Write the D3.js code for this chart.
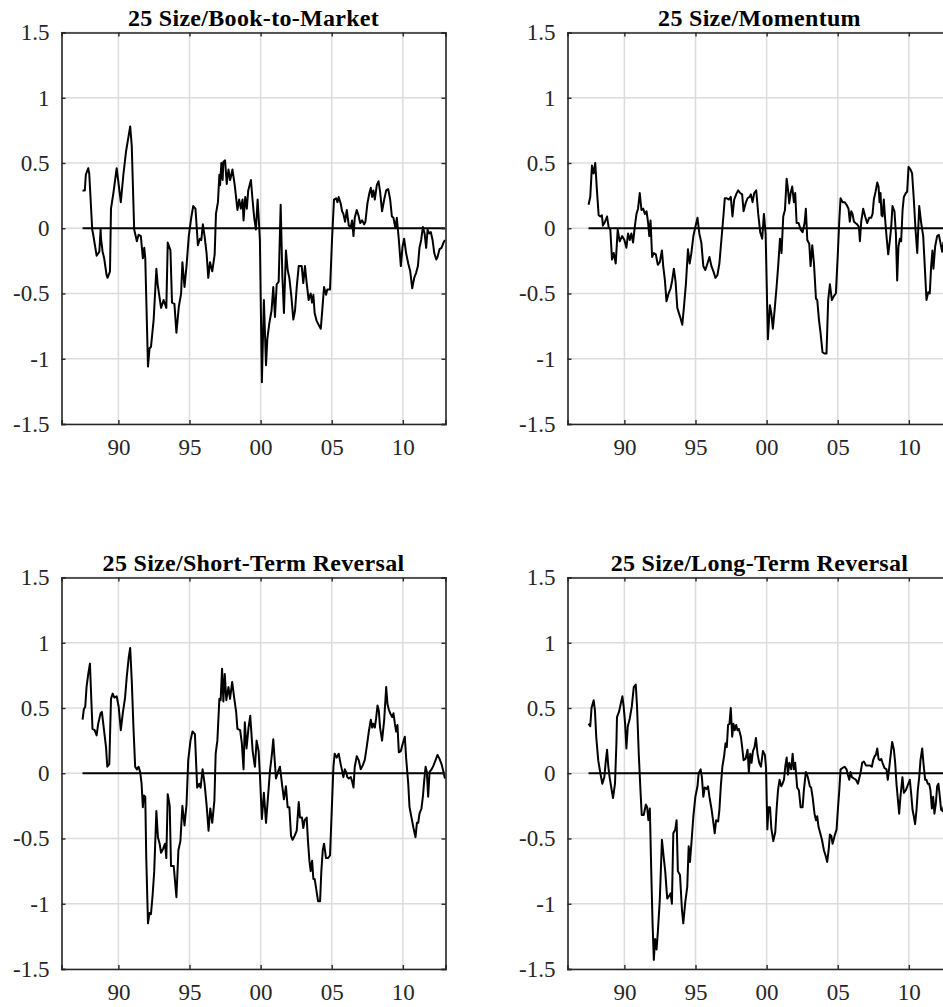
<!DOCTYPE html>
<html>
<head>
<meta charset="utf-8">
<script src="https://cdn.jsdelivr.net/npm/d3@7/dist/d3.min.js"></script>
<style>
body { margin: 0; overflow: hidden; background: #fff; }
text { font-family: "Liberation Serif", "Times New Roman", serif; }
</style>
</head>
<body>
<div id="chart-area"></div>
<script>
// Panel titles
var titles = ['25 Size/Book-to-Market', '25 Size/Momentum',
              '25 Size/Short-Term Reversal', '25 Size/Long-Term Reversal'];

// Tick values and labels
var yTicks = [-1.5, -1, -0.5, 0, 0.5, 1, 1.5];
var yTickLabels = ['-1.5', '-1', '-0.5', '0', '0.5', '1', '1.5'];
var xTicks = [1990, 1995, 2000, 2005, 2010];
var xTickLabels = ['90', '95', '00', '05', '10'];

// Series as [year, value]
var bmSeries = [
  [1987.48,0.29],[1987.64,0.29],[1987.71,0.41],[1987.88,0.46],[1987.95,0.42],[1988.16,-0.01],[1988.23,-0.05],
  [1988.47,-0.21],[1988.66,-0.18],[1988.75,-0.01],[1988.78,-0.08],[1988.89,-0.18],[1989.0,-0.23],[1989.17,-0.36],
  [1989.24,-0.38],[1989.41,-0.33],[1989.48,0.15],[1989.65,0.27],[1989.88,0.46],[1990.17,0.20],[1990.35,0.41],
  [1990.54,0.59],[1990.83,0.78],[1990.94,0.63],[1991.11,-0.01],[1991.30,-0.10],[1991.42,-0.05],[1991.58,-0.06],
  [1991.72,-0.23],[1991.82,-0.15],[1991.89,-0.23],[1992.08,-1.06],[1992.19,-0.92],[1992.29,-0.91],[1992.48,-0.70],
  [1992.67,-0.31],[1992.76,-0.43],[1993.0,-0.61],[1993.18,-0.55],[1993.37,-0.61],[1993.47,-0.11],[1993.66,-0.17],
  [1993.77,-0.57],[1993.94,-0.58],[1994.08,-0.80],[1994.25,-0.60],[1994.41,-0.50],[1994.50,-0.26],[1994.65,-0.45],
  [1994.79,-0.29],[1994.95,-0.06],[1995.12,0.08],[1995.26,0.17],[1995.42,0.15],[1995.59,-0.13],[1995.73,-0.08],
  [1995.83,-0.09],[1995.94,0.03],[1996.06,-0.06],[1996.2,-0.19],[1996.32,-0.38],[1996.44,-0.26],[1996.6,-0.33],
  [1996.77,-0.20],[1996.86,0.11],[1997.0,0.20],[1997.10,0.41],[1997.15,0.33],[1997.24,0.50],[1997.33,0.37],
  [1997.38,0.51],[1997.50,0.52],[1997.62,0.34],[1997.74,0.45],[1997.86,0.37],[1998.02,0.45],[1998.18,0.33],
  [1998.37,0.14],[1998.49,0.22],[1998.61,0.15],[1998.73,0.22],[1998.80,0.06],[1998.92,0.24],[1999.03,0.15],
  [1999.13,0.29],[1999.32,0.37],[1999.43,0.22],[1999.55,0.08],[1999.67,-0.01],[1999.79,0.22],[1999.91,-0.01],
  [1999.95,-0.09],[2000.09,-1.18],[2000.23,-0.55],[2000.38,-1.05],[2000.47,-0.85],[2000.61,-0.73],[2000.77,-0.63],
  [2000.89,-0.45],[2001.01,-0.68],[2001.13,-0.43],[2001.27,-0.41],[2001.41,0.18],[2001.53,-0.37],[2001.64,-0.65],
  [2001.78,-0.17],[2001.90,-0.32],[2002.02,-0.38],[2002.16,-0.52],[2002.30,-0.70],[2002.42,-0.63],[2002.54,-0.45],
  [2002.68,-0.29],[2002.89,-0.29],[2003.0,-0.42],[2003.12,-0.29],[2003.24,-0.42],[2003.38,-0.55],[2003.52,-0.50],
  [2003.62,-0.57],[2003.71,-0.51],[2003.80,-0.65],[2003.94,-0.71],[2004.08,-0.74],[2004.23,-0.77],[2004.32,-0.65],
  [2004.46,-0.45],[2004.60,-0.51],[2004.69,-0.47],[2004.88,-0.47],[2005.02,-0.09],[2005.16,0.22],[2005.31,0.23],
  [2005.40,0.20],[2005.49,0.24],[2005.63,0.19],[2005.73,0.13],[2005.82,0.11],[2005.94,0.05],[2006.06,0.14],
  [2006.20,0.02],[2006.34,0.01],[2006.43,0.06],[2006.53,-0.06],[2006.62,0.08],[2006.76,0.14],[2006.88,0.10],
  [2007.0,0.04],[2007.14,0.06],[2007.28,0.03],[2007.37,0.05],[2007.51,0.19],[2007.65,0.27],[2007.75,0.31],
  [2007.84,0.24],[2007.93,0.29],[2008.03,0.22],[2008.17,0.33],[2008.29,0.36],[2008.40,0.28],[2008.54,0.13],
  [2008.69,0.22],[2008.83,0.29],[2008.97,0.30],[2009.11,0.22],[2009.23,0.09],[2009.34,0.08],[2009.48,0.0],
  [2009.58,0.08],[2009.72,-0.09],[2009.86,-0.29],[2009.98,-0.14],[2010.09,-0.08],[2010.23,-0.19],[2010.38,-0.27],
  [2010.52,-0.33],[2010.66,-0.46],[2010.80,-0.38],[2010.94,-0.34],[2011.06,-0.29],[2011.17,-0.15],[2011.29,-0.09],
  [2011.41,0.01],[2011.53,-0.04],[2011.64,-0.15],[2011.74,-0.01],[2011.85,-0.04],[2011.97,-0.03],[2012.09,-0.09],
  [2012.21,-0.19],[2012.35,-0.24],[2012.44,-0.22],[2012.58,-0.16],[2012.72,-0.15],[2012.86,-0.11],[2012.96,-0.09]
];

var momSeries = [
  [1987.48,0.18],[1987.60,0.24],[1987.72,0.48],[1987.84,0.42],[1987.95,0.50],[1988.07,0.29],[1988.19,0.10],
  [1988.31,0.09],[1988.42,0.10],[1988.49,0.02],[1988.64,0.05],[1988.78,0.09],[1988.89,0.01],[1989.01,-0.01],
  [1989.13,-0.24],[1989.25,-0.19],[1989.39,-0.27],[1989.53,-0.01],[1989.67,-0.10],[1989.84,-0.06],[1990.0,-0.09],
  [1990.14,-0.15],[1990.26,-0.04],[1990.38,-0.09],[1990.49,-0.04],[1990.61,-0.11],[1990.73,0.01],[1990.85,0.11],
  [1990.96,0.15],[1991.08,0.27],[1991.20,0.14],[1991.32,0.15],[1991.44,0.11],[1991.56,0.13],[1991.67,0.04],
  [1991.75,-0.06],[1991.84,0.06],[1991.95,-0.22],[1992.07,-0.19],[1992.21,-0.20],[1992.35,-0.28],[1992.49,-0.26],
  [1992.64,-0.17],[1992.73,-0.29],[1992.85,-0.40],[1992.96,-0.56],[1993.11,-0.50],[1993.25,-0.46],[1993.36,-0.40],
  [1993.48,-0.31],[1993.60,-0.41],[1993.72,-0.61],[1993.86,-0.66],[1993.95,-0.69],[1994.07,-0.74],[1994.19,-0.60],
  [1994.33,-0.42],[1994.47,-0.16],[1994.59,-0.27],[1994.71,-0.19],[1994.85,-0.06],[1994.99,0.01],[1995.14,0.08],
  [1995.27,-0.04],[1995.41,-0.11],[1995.55,-0.29],[1995.69,-0.32],[1995.84,-0.27],[1995.98,-0.22],[1996.12,-0.29],
  [1996.26,-0.33],[1996.40,-0.38],[1996.54,-0.36],[1996.68,-0.27],[1996.82,-0.09],[1996.96,0.09],[1997.06,0.23],
  [1997.20,0.23],[1997.34,0.22],[1997.48,0.24],[1997.60,0.09],[1997.72,0.22],[1997.86,0.26],[1998.0,0.29],
  [1998.14,0.27],[1998.28,0.26],[1998.38,0.13],[1998.52,0.19],[1998.66,0.23],[1998.80,0.24],[1998.89,0.26],
  [1999.01,0.20],[1999.13,0.27],[1999.27,0.29],[1999.41,0.11],[1999.55,-0.03],[1999.69,-0.08],[1999.81,0.11],
  [1999.93,-0.04],[2000.09,-0.85],[2000.23,-0.59],[2000.33,-0.65],[2000.44,-0.77],[2000.56,-0.63],[2000.70,-0.45],
  [2000.82,-0.28],[2000.94,-0.08],[2001.05,-0.19],[2001.17,0.09],[2001.29,0.14],[2001.41,0.38],[2001.50,0.30],
  [2001.59,0.19],[2001.69,0.27],[2001.80,0.32],[2001.92,0.20],[2002.01,0.27],[2002.11,0.04],[2002.25,0.04],
  [2002.39,-0.01],[2002.53,-0.03],[2002.67,0.04],[2002.76,0.15],[2002.86,-0.09],[2003.0,-0.12],[2003.09,-0.29],
  [2003.21,-0.13],[2003.33,-0.27],[2003.47,-0.54],[2003.56,-0.55],[2003.68,-0.70],[2003.79,-0.80],[2003.93,-0.95],
  [2004.07,-0.96],[2004.21,-0.96],[2004.33,-0.55],[2004.45,-0.43],[2004.59,-0.55],[2004.73,-0.52],[2004.87,-0.50],
  [2005.01,-0.19],[2005.11,0.06],[2005.20,0.23],[2005.34,0.20],[2005.48,0.20],[2005.62,0.18],[2005.76,0.15],
  [2005.85,0.05],[2005.95,0.13],[2006.04,0.11],[2006.14,0.05],[2006.25,0.04],[2006.37,0.03],[2006.49,0.01],
  [2006.56,-0.10],[2006.65,0.05],[2006.79,0.15],[2006.93,0.09],[2007.07,0.04],[2007.21,0.08],[2007.35,0.08],
  [2007.45,0.11],[2007.54,0.22],[2007.66,0.28],[2007.78,0.35],[2007.87,0.32],[2007.94,0.20],[2008.01,0.27],
  [2008.08,0.10],[2008.15,0.09],[2008.24,0.22],[2008.34,0.06],[2008.43,-0.06],[2008.55,-0.20],[2008.67,-0.09],
  [2008.76,0.01],[2008.85,0.17],[2008.99,0.13],[2009.09,-0.04],[2009.18,-0.40],[2009.27,-0.14],[2009.37,-0.08],
  [2009.46,-0.10],[2009.56,0.14],[2009.65,0.24],[2009.79,0.27],[2009.88,0.28],[2009.98,0.47],[2010.12,0.45],
  [2010.23,0.42],[2010.35,0.22],[2010.47,-0.01],[2010.59,-0.19],[2010.73,0.17],[2010.87,0.04],[2011.01,-0.06],
  [2011.12,-0.29],[2011.24,-0.55],[2011.36,-0.49],[2011.47,-0.50],[2011.57,-0.29],[2011.66,-0.17],[2011.73,-0.31],
  [2011.85,-0.14],[2011.99,-0.06],[2012.11,-0.05],[2012.22,-0.11],[2012.34,-0.18],[2012.43,-0.11],[2012.60,-0.14],
  [2012.80,-0.10],[2012.96,-0.12]
];

var strSeries = [
  [1987.48,0.41],[1987.57,0.49],[1987.67,0.51],[1987.76,0.66],[1987.88,0.76],[1988.0,0.84],[1988.09,0.58],
  [1988.18,0.34],[1988.33,0.33],[1988.47,0.29],[1988.58,0.38],[1988.75,0.46],[1988.84,0.47],[1988.99,0.33],
  [1989.13,0.20],[1989.22,0.05],[1989.36,0.07],[1989.48,0.57],[1989.60,0.61],[1989.72,0.58],[1989.88,0.59],
  [1990.02,0.51],[1990.17,0.33],[1990.31,0.46],[1990.47,0.58],[1990.59,0.74],[1990.73,0.89],[1990.83,0.96],
  [1990.94,0.71],[1991.06,0.35],[1991.18,0.05],[1991.30,0.03],[1991.42,0.05],[1991.53,0.01],[1991.63,-0.08],
  [1991.72,-0.26],[1991.79,-0.17],[1991.89,-0.18],[1991.96,-0.65],[1992.08,-1.15],[1992.19,-1.07],[1992.29,-1.08],
  [1992.41,-0.93],[1992.52,-0.75],[1992.67,-0.29],[1992.78,-0.49],[1992.90,-0.54],[1993.0,-0.61],[1993.14,-0.58],
  [1993.28,-0.54],[1993.37,-0.65],[1993.47,-0.16],[1993.61,-0.25],[1993.70,-0.71],[1993.89,-0.71],[1994.08,-0.95],
  [1994.22,-0.59],[1994.36,-0.52],[1994.50,-0.25],[1994.65,-0.40],[1994.79,-0.24],[1994.91,0.10],[1995.07,0.25],
  [1995.21,0.32],[1995.38,0.30],[1995.54,-0.11],[1995.68,-0.08],[1995.78,-0.11],[1995.92,0.03],[1996.06,-0.08],
  [1996.20,-0.24],[1996.34,-0.44],[1996.46,-0.27],[1996.60,-0.38],[1996.75,-0.21],[1996.84,0.15],[1996.96,0.25],
  [1997.10,0.57],[1997.19,0.56],[1997.29,0.80],[1997.38,0.55],[1997.48,0.76],[1997.59,0.56],[1997.74,0.66],
  [1997.85,0.57],[1998.0,0.70],[1998.14,0.58],[1998.28,0.47],[1998.37,0.34],[1998.56,0.33],[1998.68,0.23],
  [1998.80,0.03],[1998.89,0.39],[1999.01,0.19],[1999.15,0.35],[1999.27,0.44],[1999.44,0.17],[1999.60,0.05],
  [1999.72,0.25],[1999.86,0.17],[1999.95,-0.01],[2000.09,-0.35],[2000.23,-0.15],[2000.38,-0.38],[2000.52,-0.18],
  [2000.66,0.02],[2000.80,0.15],[2000.89,0.26],[2000.99,0.10],[2001.08,-0.04],[2001.22,0.01],[2001.36,0.05],
  [2001.50,-0.08],[2001.64,-0.20],[2001.78,-0.10],[2001.90,-0.26],[2002.02,-0.26],[2002.14,-0.48],[2002.25,-0.51],
  [2002.39,-0.48],[2002.54,-0.44],[2002.68,-0.22],[2002.77,-0.34],[2002.91,-0.34],[2003.0,-0.42],[2003.10,-0.36],
  [2003.24,-0.34],[2003.33,-0.52],[2003.43,-0.67],[2003.52,-0.75],[2003.62,-0.67],[2003.71,-0.81],[2003.80,-0.81],
  [2003.90,-0.88],[2004.04,-0.98],[2004.18,-0.98],[2004.27,-0.75],[2004.37,-0.59],[2004.46,-0.54],[2004.60,-0.65],
  [2004.74,-0.65],[2004.88,-0.63],[2005.0,-0.29],[2005.12,0.05],[2005.21,0.15],[2005.35,0.12],[2005.49,0.15],
  [2005.63,0.07],[2005.73,0.02],[2005.82,-0.03],[2005.92,0.03],[2006.01,0.01],[2006.10,-0.03],[2006.20,-0.04],
  [2006.34,-0.03],[2006.43,-0.06],[2006.53,-0.11],[2006.62,0.05],[2006.76,0.13],[2006.90,0.10],[2007.04,0.03],
  [2007.18,0.06],[2007.32,0.10],[2007.46,0.20],[2007.61,0.32],[2007.75,0.41],[2007.84,0.35],[2007.93,0.38],
  [2008.03,0.35],[2008.12,0.42],[2008.22,0.52],[2008.31,0.48],[2008.40,0.35],[2008.54,0.25],[2008.69,0.41],
  [2008.83,0.66],[2008.92,0.53],[2009.01,0.49],[2009.11,0.46],[2009.25,0.43],[2009.34,0.46],[2009.44,0.38],
  [2009.53,0.32],[2009.62,0.37],[2009.72,0.16],[2009.86,0.17],[2010.0,0.23],[2010.14,0.28],[2010.23,0.12],
  [2010.38,-0.08],[2010.47,-0.26],[2010.61,-0.34],[2010.75,-0.42],[2010.89,-0.49],[2010.99,-0.38],[2011.08,-0.38],
  [2011.17,-0.31],[2011.31,-0.27],[2011.41,-0.18],[2011.50,-0.06],[2011.60,0.05],[2011.69,0.01],[2011.78,-0.18],
  [2011.88,0.01],[2012.02,0.03],[2012.16,0.06],[2012.30,0.10],[2012.44,0.14],[2012.58,0.11],[2012.72,0.07],
  [2012.86,0.01],[2012.96,-0.04]
];

var ltrSeries = [
  [1987.48,0.38],[1987.60,0.36],[1987.69,0.50],[1987.84,0.56],[1987.93,0.48],[1988.02,0.28],[1988.16,0.10],
  [1988.31,0.0],[1988.45,-0.08],[1988.59,-0.03],[1988.68,0.08],[1988.78,0.18],[1988.87,0.05],[1988.96,-0.03],
  [1989.11,-0.13],[1989.20,-0.19],[1989.34,-0.08],[1989.44,0.23],[1989.48,0.43],[1989.62,0.47],[1989.76,0.54],
  [1989.86,0.59],[1989.95,0.51],[1990.05,0.38],[1990.14,0.19],[1990.24,0.36],[1990.38,0.42],[1990.52,0.51],
  [1990.66,0.66],[1990.80,0.68],[1990.89,0.51],[1991.01,0.15],[1991.13,-0.13],[1991.22,-0.32],[1991.36,-0.32],
  [1991.51,-0.24],[1991.60,-0.26],[1991.69,-0.36],[1991.79,-0.27],[1991.88,-0.71],[1991.98,-1.15],[1992.07,-1.43],
  [1992.16,-1.27],[1992.26,-1.35],[1992.35,-1.22],[1992.49,-0.97],[1992.64,-0.51],[1992.78,-0.66],[1992.87,-0.75],
  [1993.01,-0.96],[1993.15,-0.94],[1993.25,-0.92],[1993.34,-1.0],[1993.44,-0.46],[1993.58,-0.43],[1993.67,-0.36],
  [1993.76,-0.75],[1993.91,-0.78],[1994.05,-1.05],[1994.14,-1.15],[1994.28,-0.99],[1994.42,-0.87],[1994.52,-0.56],
  [1994.61,-0.68],[1994.71,-0.54],[1994.85,-0.33],[1994.99,-0.18],[1995.14,-0.10],[1995.22,0.0],[1995.36,0.03],
  [1995.45,-0.03],[1995.55,-0.18],[1995.65,-0.11],[1995.79,-0.12],[1995.88,-0.10],[1995.98,-0.18],[1996.12,-0.27],
  [1996.26,-0.38],[1996.35,-0.46],[1996.45,-0.36],[1996.59,-0.37],[1996.68,-0.28],[1996.78,-0.10],[1996.89,0.05],
  [1997.01,0.13],[1997.11,0.23],[1997.20,0.20],[1997.29,0.37],[1997.39,0.38],[1997.48,0.50],[1997.58,0.28],
  [1997.67,0.38],[1997.76,0.33],[1997.86,0.37],[1997.95,0.33],[1998.05,0.34],[1998.19,0.28],[1998.28,0.20],
  [1998.38,0.10],[1998.52,0.11],[1998.66,0.18],[1998.75,0.01],[1998.85,0.15],[1998.94,0.08],[1999.04,0.17],
  [1999.15,0.20],[1999.25,0.27],[1999.36,0.15],[1999.48,0.08],[1999.60,0.05],[1999.74,0.17],[1999.88,0.14],
  [1999.96,0.04],[2000.05,-0.43],[2000.14,-0.26],[2000.24,-0.26],[2000.33,-0.42],[2000.47,-0.52],[2000.61,-0.45],
  [2000.70,-0.28],[2000.80,-0.13],[2000.91,-0.05],[2001.03,-0.10],[2001.12,-0.08],[2001.22,-0.05],[2001.31,0.05],
  [2001.41,0.12],[2001.50,-0.01],[2001.59,0.08],[2001.73,0.03],[2001.83,0.15],[2001.92,0.03],[2002.01,0.08],
  [2002.15,-0.11],[2002.27,-0.13],[2002.39,-0.26],[2002.53,-0.26],[2002.62,-0.13],[2002.76,0.01],[2002.90,-0.03],
  [2003.04,-0.10],[2003.13,-0.11],[2003.23,-0.18],[2003.37,-0.31],[2003.47,-0.36],[2003.56,-0.33],[2003.65,-0.41],
  [2003.75,-0.45],[2003.89,-0.51],[2004.03,-0.59],[2004.17,-0.64],[2004.26,-0.68],[2004.36,-0.59],[2004.45,-0.47],
  [2004.55,-0.48],[2004.64,-0.54],[2004.78,-0.48],[2004.92,-0.43],[2005.01,-0.28],[2005.11,-0.13],[2005.20,0.03],
  [2005.34,0.04],[2005.48,0.05],[2005.62,0.03],[2005.71,-0.01],[2005.81,-0.05],[2005.90,0.01],[2006.0,-0.03],
  [2006.14,-0.04],[2006.28,-0.05],[2006.42,-0.08],[2006.51,-0.04],[2006.60,0.0],[2006.72,0.08],[2006.84,0.09],
  [2006.98,0.06],[2007.12,0.06],[2007.26,0.06],[2007.40,0.05],[2007.49,0.10],[2007.59,0.13],[2007.68,0.14],
  [2007.78,0.19],[2007.87,0.11],[2007.97,0.10],[2008.06,0.11],[2008.15,0.08],[2008.29,0.04],[2008.43,0.03],
  [2008.52,-0.05],[2008.62,0.04],[2008.71,0.13],[2008.83,0.24],[2008.95,0.18],[2009.04,0.08],[2009.13,-0.08],
  [2009.23,-0.20],[2009.32,-0.31],[2009.41,-0.18],[2009.55,-0.03],[2009.65,-0.15],[2009.79,-0.13],[2009.93,-0.09],
  [2010.07,-0.05],[2010.16,-0.15],[2010.26,-0.28],[2010.35,-0.33],[2010.44,-0.39],[2010.54,-0.28],[2010.63,-0.13],
  [2010.73,-0.03],[2010.82,0.10],[2010.94,0.19],[2011.05,0.05],[2011.15,-0.05],[2011.24,-0.05],[2011.33,-0.08],
  [2011.43,-0.08],[2011.52,-0.13],[2011.62,-0.27],[2011.71,-0.18],[2011.80,-0.31],[2011.90,-0.23],[2011.99,-0.10],
  [2012.08,-0.08],[2012.18,-0.18],[2012.27,-0.28],[2012.37,-0.29],[2012.44,-0.26],[2012.65,-0.22],[2012.96,-0.18]
];

var seriesList = [bmSeries, momSeries, strSeries, ltrSeries];

// Layout
var panelW = 384, panelH = 391.5;
var lefts = [61.5, 567.5], tops = [32.5, 577.5];

var svg = d3.select('#chart-area')
    .append('svg')
        .attr('width', 943)
        .attr('height', 1007)
        .style('display', 'block');

var x = d3.scaleLinear()
    .domain([1986, 2013])
    .range([0, panelW]);

var y = d3.scaleLinear()
    .domain([-1.5, 1.5])
    .range([panelH, 0]);

var line = d3.line()
    .x(function(d){ return x(d[0]); })
    .y(function(d){ return y(d[1]); });

var axisColor = '#262626';

seriesList.forEach(function(data, i){
    var g = svg.append('g')
        .attr('transform', 'translate(' + lefts[i % 2] + ',' + tops[Math.floor(i / 2)] + ')');

    // Grid
    g.selectAll('.vgrid')
        .data(xTicks)
        .enter().append('line')
            .attr('x1', function(d){ return x(d); })
            .attr('x2', function(d){ return x(d); })
            .attr('y1', 0)
            .attr('y2', panelH)
            .attr('stroke', '#dcdcdc')
            .attr('stroke-width', 1.5);

    g.selectAll('.hgrid')
        .data(yTicks)
        .enter().append('line')
            .attr('x1', 0)
            .attr('x2', panelW)
            .attr('y1', function(d){ return y(d); })
            .attr('y2', function(d){ return y(d); })
            .attr('stroke', '#dcdcdc')
            .attr('stroke-width', 1.5);

    // Series
    g.append('path')
        .datum(data)
        .attr('fill', 'none')
        .attr('stroke', '#000')
        .attr('stroke-width', 2)
        .attr('stroke-linejoin', 'round')
        .attr('d', line);

    // Zero line over the sample period
    g.append('line')
        .attr('x1', x(data[0][0]))
        .attr('x2', x(data[data.length - 1][0]))
        .attr('y1', y(0))
        .attr('y2', y(0))
        .attr('stroke', '#000')
        .attr('stroke-width', 2);

    // Axes, MATLAB style inward ticks
    var xAxisCall = d3.axisBottom(x)
        .tickValues(xTicks)
        .tickSize(-4)
        .tickPadding(15)
        .tickFormat(function(d, k){ return xTickLabels[k]; });
    var xAxis = g.append('g')
        .attr('transform', 'translate(0,' + panelH + ')')
        .call(xAxisCall);

    var yAxisCall = d3.axisLeft(y)
        .tickValues(yTicks)
        .tickSize(-4)
        .tickPadding(12)
        .tickFormat(function(d, k){ return yTickLabels[k]; });
    var yAxis = g.append('g')
        .call(yAxisCall);

    var topAxis = g.append('g')
        .call(d3.axisTop(x).tickValues(xTicks).tickSize(-4).tickFormat(''));
    var rightAxis = g.append('g')
        .attr('transform', 'translate(' + panelW + ',0)')
        .call(d3.axisRight(y).tickValues(yTicks).tickSize(-4).tickFormat(''));

    [xAxis, yAxis, topAxis, rightAxis].forEach(function(a){
        a.select('.domain').attr('stroke', axisColor).attr('stroke-width', 1.6);
        a.selectAll('.tick line').attr('stroke', axisColor).attr('stroke-width', 1.4);
        a.selectAll('.tick text')
            .attr('fill', '#262626')
            .attr('font-family', '"Liberation Serif", "Times New Roman", serif')
            .attr('font-size', '23px');
    });

    // Title
    g.append('text')
        .attr('x', panelW / 2)
        .attr('y', -7)
        .attr('text-anchor', 'middle')
        .attr('font-size', '24px')
        .attr('font-weight', 'bold')
        .attr('letter-spacing', '0.3px')
        .attr('fill', '#000')
        .text(titles[i]);
});
</script>
</body>
</html>
